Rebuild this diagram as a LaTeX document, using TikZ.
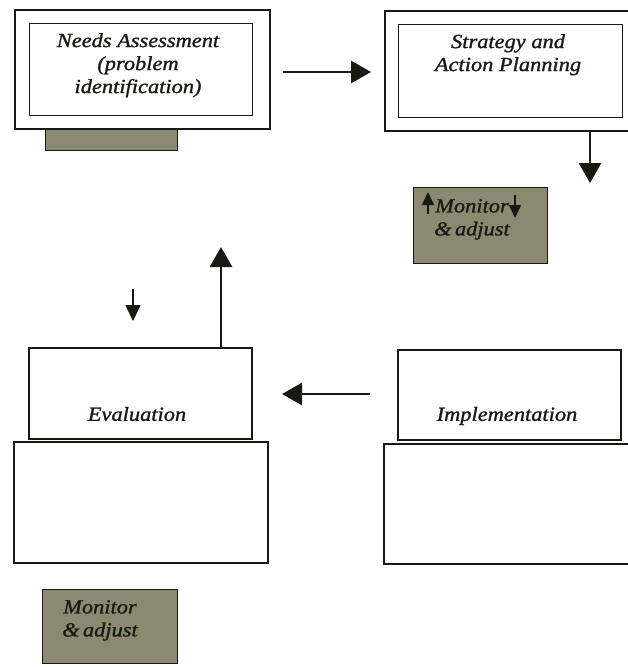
\documentclass[tikz,border=0pt]{standalone}
\usepackage{fontspec}
\setmainfont{Liberation Serif}[FakeStretch=1.12, FakeBold=1.2]
\usetikzlibrary{arrows.meta}
\definecolor{shade}{RGB}{140,137,112}
\definecolor{ink}{RGB}{25,25,20}
\tikzset{
  box/.style={draw=ink, line width=1.6pt, fill=white, anchor=north west, inner sep=0pt},
  graybox/.style={draw=ink, line width=1.2pt, fill=shade, anchor=north west, inner sep=0pt},
  label/.style={font=\fontsize{20}{23}\selectfont\itshape, text=ink, align=center, inner sep=0pt},
  arr/.style={draw=ink, line width=2.8pt, -{Triangle[length=20pt,width=22pt]}},
  smallarr/.style={draw=ink, line width=1.6pt, -{Triangle[length=16pt,width=15pt]}},
  tinyarr/.style={draw=ink, line width=1.6pt, -{Triangle[length=13pt,width=12pt]}},
}
\begin{document}
\begin{tikzpicture}[x=1pt,y=-1pt]
\useasboundingbox (0,0) rectangle (628,667);
% Needs assessment
\node[graybox, minimum width=132pt, minimum height=22pt] (nagray) at (45,128) {};
\node[box, minimum width=255pt, minimum height=119pt] (naout) at (14,9) {};
\node[box, line width=1.4pt, minimum width=223pt, minimum height=92pt] (nain) at (29,23) {};
\node[label, anchor=north] (natext) at (138,33) {Needs Assessment\\(problem\\identification)};
% Strategy
\node[box, minimum width=245pt, minimum height=120pt] (saout) at (384,10) {};
\node[box, line width=1.4pt, minimum width=224pt, minimum height=93pt] (sain) at (398,24) {};
\node[label, anchor=north] (satext) at (508,34) {Strategy and\\Action Planning};
% Monitor top right
\node[graybox, minimum width=134pt, minimum height=76pt] (mon1) at (413,187) {};
\node[label, anchor=north] (mon1text) at (472,199) {Monitor\\\&\,adjust};
\coordinate (m1a) at (428,214);
\coordinate (m1b) at (428,192);
\coordinate (m1c) at (515,195);
\coordinate (m1d) at (515,218);
\draw[tinyarr] (m1a) -- (m1b);
\draw[tinyarr] (m1c) -- (m1d);
% Evaluation
\node[box, minimum width=254pt, minimum height=121pt] (evlow) at (13,441) {};
\node[box, minimum width=223pt, minimum height=91pt] (eval) at (28,347) {};
\node[label] (evtext) at (137,414) {Evaluation};
% Implementation
\node[box, minimum width=246pt, minimum height=120pt] (imlow) at (383,443) {};
\node[box, minimum width=223pt, minimum height=90pt] (impl) at (397,349) {};
\node[label] (imtext) at (507,416) {Implementation};
% Monitor bottom left
\node[graybox, minimum width=135pt, minimum height=74pt] (mon2) at (42,589) {};
\node[label, anchor=north] (mon2text) at (100,600) {Monitor\\\&\,adjust};
% connectors
\coordinate (a1s) at (283,72);
\coordinate (a1e) at (371,72);
\draw[arr] (a1s) -- (a1e);
\coordinate (a2e) at (590,183);
\draw[arr] (saout.south -| a2e) -- (a2e);
\coordinate (a3s) at (370,394);
\coordinate (a3e) at (282,394);
\draw[arr] (a3s) -- (a3e);
\coordinate (a4e) at (221,247);
\draw[arr] (eval.north -| a4e) -- (a4e);
\coordinate (a5s) at (133,289);
\coordinate (a5e) at (133,321);
\draw[smallarr] (a5s) -- (a5e);
\end{tikzpicture}
\end{document}
